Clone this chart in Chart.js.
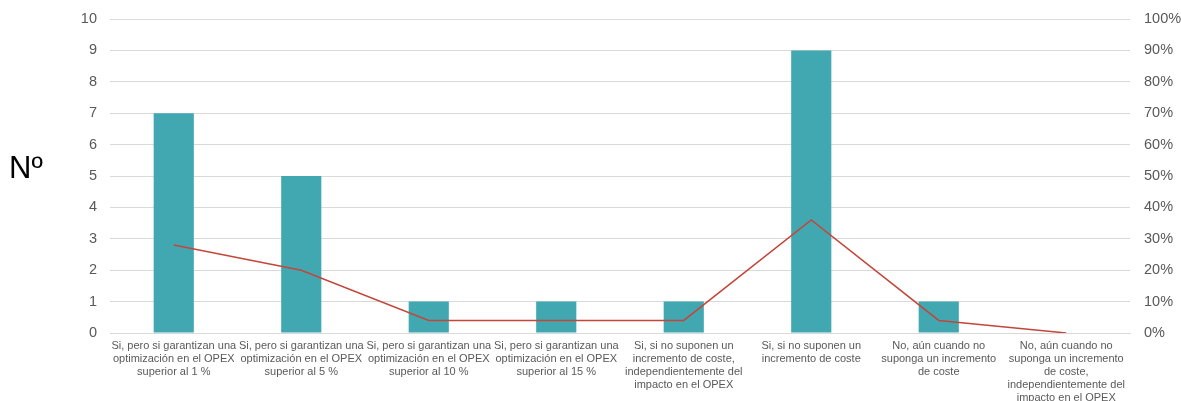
<!DOCTYPE html>
<html>
<head>
<meta charset="utf-8">
<script src="https://cdn.jsdelivr.net/npm/chart.js@4/dist/chart.umd.min.js"></script>
<style>
  html, body { margin: 0; padding: 0; background: #ffffff; }
  #wrap { width: 1181px; height: 401px; }
</style>
</head>
<body>
<div id="wrap"><canvas id="chart" width="1181" height="401"></canvas></div>
<script>
const categories = [
    ["Si, pero si garantizan una", "optimización en el OPEX", "superior al 1 %"],
    ["Si, pero si garantizan una", "optimización en el OPEX", "superior al 5 %"],
    ["Si, pero si garantizan una", "optimización en el OPEX", "superior al 10 %"],
    ["Si, pero si garantizan una", "optimización en el OPEX", "superior al 15 %"],
    ["Si, si no suponen un", "incremento de coste,", "independientemente del", "impacto en el OPEX"],
    ["Si, si no suponen un", "incremento de coste"],
    ["No, aún cuando no", "suponga un incremento", "de coste"],
    ["No, aún cuando no", "suponga un incremento", "de coste,", "independientemente del", "impacto en el OPEX"]
];
const counts   = [7, 5, 1, 1, 1, 9, 1, 0];
const percents = [28, 20, 4, 4, 4, 36, 4, 0];

const textCol = "#595959";
const gridCol = "#d9d9d9";

// horizontal "Nº" axis title left of the value ticks
const leftTitle = {
    id: "leftTitle",
    afterDraw(chart)
    {
        const ctx = chart.ctx;
        const area = chart.chartArea;
        ctx.save();
        ctx.fillStyle = "#000000";
        ctx.font = "31px 'Liberation Sans', Arial, sans-serif";
        ctx.textAlign = "left";
        ctx.textBaseline = "middle";
        ctx.fillText("Nº", 9, (area.top + area.bottom) / 2 - 7);
        ctx.restore();
    }
};

// fixed axis sizes, no extra room for tick label overflow
function fitY(width)
{
    return s => {
        s.width = width;
        s.paddingTop = 0;
        s.paddingBottom = 0;
    };
}

new Chart(document.getElementById("chart"),
{
    data:
    {
        labels: categories,
        datasets:
        [
            {
                type: "line",
                data: percents,
                yAxisID: "y1",
                borderColor: "#c4463a",
                borderWidth: 1.5,
                pointRadius: 0,
                tension: 0,
                order: 0
            },
            {
                type: "bar",
                data: counts,
                yAxisID: "y",
                backgroundColor: "#41a8b2",
                barPercentage: 0.315,
                categoryPercentage: 1.0,
                order: 1
            }
        ]
    },
    options:
    {
        responsive: false,
        animation: false,
        layout: { padding: { top: 19, left: 0, right: 0, bottom: 0 } },
        plugins: { legend: { display: false }, tooltip: { enabled: false } },
        scales:
        {
            x:
            {
                grid: { display: false, drawTicks: false },
                border: { color: gridCol },
                ticks:
                {
                    color: textCol,
                    font: { family: "'Liberation Sans', Arial, sans-serif", size: 11, lineHeight: 1.2 },
                    maxRotation: 0,
                    autoSkip: false,
                    padding: 6
                },
                afterFit: s => { s.height = 68; s.paddingLeft = 0; s.paddingRight = 0; }
            },
            y:
            {
                position: "left",
                min: 0,
                max: 10,
                ticks:
                {
                    stepSize: 1,
                    color: textCol,
                    font: { family: "'Liberation Sans', Arial, sans-serif", size: 14.5 },
                    padding: 13
                },
                grid: { color: gridCol, drawTicks: false },
                border: { display: false },
                afterFit: fitY(110)
            },
            y1:
            {
                position: "right",
                min: 0,
                max: 100,
                ticks:
                {
                    stepSize: 10,
                    color: textCol,
                    font: { family: "'Liberation Sans', Arial, sans-serif", size: 14.5 },
                    padding: 14,
                    callback: v => v + "%"
                },
                grid: { display: false, drawTicks: false },
                border: { display: false },
                afterFit: fitY(51)
            }
        }
    },
    plugins: [leftTitle]
});
</script>
</body>
</html>
